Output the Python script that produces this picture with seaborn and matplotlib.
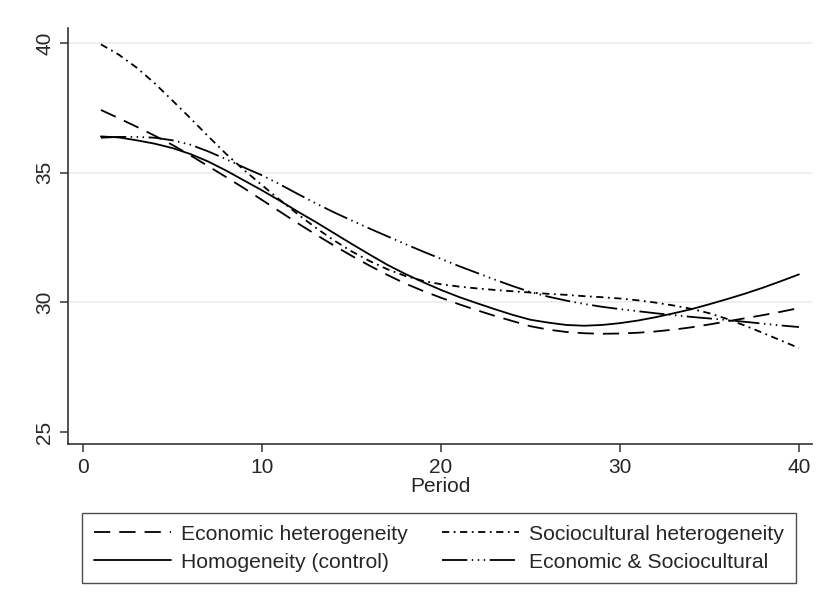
import numpy as np
import pandas as pd
import matplotlib
matplotlib.use("Agg")
import matplotlib.pyplot as plt
import seaborn as sns

periods = list(range(1, 41))

econ_het = [37.42, 37.10, 36.77, 36.43, 36.07, 35.67, 35.25, 34.83, 34.40, 33.95,
            33.50, 33.05, 32.62, 32.20, 31.80, 31.42, 31.06, 30.73, 30.44, 30.18,
            29.93, 29.70, 29.48, 29.28, 29.08, 28.95, 28.86, 28.81, 28.79, 28.80,
            28.83, 28.88, 28.95, 29.04, 29.15, 29.27, 29.39, 29.51, 29.64, 29.78]

homogeneity = [36.40, 36.36, 36.25, 36.12, 35.95, 35.72, 35.43, 35.08, 34.70, 34.32,
               33.92, 33.50, 33.10, 32.68, 32.26, 31.85, 31.45, 31.10, 30.78, 30.48,
               30.21, 29.97, 29.74, 29.52, 29.33, 29.22, 29.13, 29.10, 29.13, 29.20,
               29.30, 29.43, 29.58, 29.74, 29.93, 30.13, 30.34, 30.57, 30.82, 31.08]

socio_het = [39.95, 39.55, 39.05, 38.45, 37.78, 37.10, 36.40, 35.72, 35.10, 34.52,
             33.95, 33.40, 32.88, 32.40, 31.97, 31.60, 31.28, 31.02, 30.83, 30.70,
             30.61, 30.54, 30.48, 30.43, 30.38, 30.33, 30.29, 30.24, 30.20, 30.15,
             30.08, 29.99, 29.88, 29.75, 29.58, 29.36, 29.10, 28.82, 28.53, 28.24]

econ_socio = [36.35, 36.38, 36.38, 36.35, 36.25, 36.08, 35.82, 35.52, 35.20, 34.90,
              34.55, 34.18, 33.82, 33.48, 33.16, 32.85, 32.55, 32.25, 31.96, 31.68,
              31.40, 31.14, 30.88, 30.63, 30.40, 30.22, 30.07, 29.94, 29.83, 29.74,
              29.66, 29.58, 29.51, 29.44, 29.38, 29.32, 29.25, 29.18, 29.11, 29.05]

series_names = ["Economic heterogeneity", "Homogeneity (control)",
                "Sociocultural heterogeneity", "Economic & Sociocultural"]
x_ticks = [0, 10, 20, 30, 40]
y_ticks = [25, 30, 35, 40]

df = pd.DataFrame({
    "Period": periods * 4,
    "value": econ_het + homogeneity + socio_het + econ_socio,
    "series": sum([[n] * len(periods) for n in series_names], []),
})

sns.set_style("white")
plt.rcParams["font.family"] = ["Liberation Sans", "DejaVu Sans"]

fig = plt.figure(figsize=(8.22, 6.02), dpi=100)
fig.patch.set_facecolor("white")
ax = fig.add_axes([68 / 822, 1 - 444 / 602, (812 - 68) / 822, (444 - 28) / 602])

dashes = {
    "Economic heterogeneity": (9, 5),
    "Homogeneity (control)": "",
    "Sociocultural heterogeneity": (4, 2.5, 1, 2.5),
    "Economic & Sociocultural": (14, 2.5, 0.8, 2.5, 0.8, 2.5, 0.8, 2.5),
}
palette = {n: "black" for n in series_names}

sns.lineplot(data=df, x="Period", y="value", hue="series", style="series",
             hue_order=series_names, style_order=series_names,
             palette=palette, dashes=dashes, linewidth=1.3, ax=ax, legend=True)

ax.set_xlim(-0.84, 40.73)
ax.set_ylim(24.54, 40.58)
ax.set_xticks(x_ticks)
ax.set_yticks(y_ticks)
ax.set_xticklabels([str(t) for t in x_ticks], fontsize=15)
ax.set_yticklabels([str(t) for t in y_ticks], fontsize=15, rotation=90, va="center")
ax.set_xlabel("Period", fontsize=15, labelpad=0)
ax.set_ylabel("")

ax.grid(axis="y", color="#e6eef2", linewidth=1.2)
ax.set_axisbelow(True)
ygl = ax.get_ygridlines()
ygl[0].set_visible(False)

for s in ["top", "right"]:
    ax.spines[s].set_visible(False)
for s in ["left", "bottom"]:
    ax.spines[s].set_color("#333333")
    ax.spines[s].set_linewidth(1.2)
ax.tick_params(axis="both", direction="out", length=6, width=1.1, color="#333333",
               left=True, bottom=True, pad=4)

handles, labels = ax.get_legend_handles_labels()
ax.get_legend().remove()
leg = fig.legend(handles, labels, ncol=2, loc="upper left",
                 bbox_to_anchor=(82 / 822, 1 - 513 / 602),
                 fontsize=15.2, frameon=True, fancybox=False,
                 edgecolor="#222222", handlelength=3.65, handletextpad=0.47,
                 columnspacing=1.66, borderpad=0.55, labelspacing=0.43,
                 borderaxespad=0)
leg.get_frame().set_linewidth(1.0)
for line in leg.get_lines():
    line.set_linewidth(1.3)

fig.savefig("out.png", dpi=100, facecolor="white")
